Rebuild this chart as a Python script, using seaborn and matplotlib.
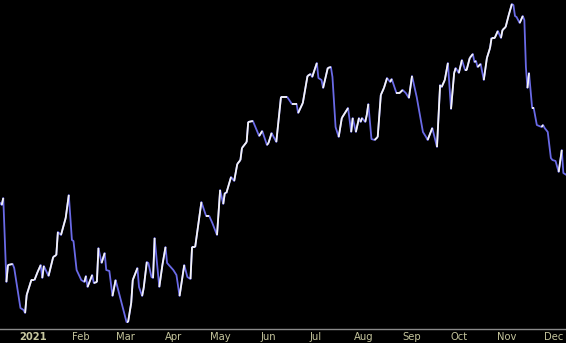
import numpy as np
import pandas as pd
import matplotlib
matplotlib.use("Agg")
import matplotlib.pyplot as plt
import matplotlib.dates as mdates
from matplotlib.collections import LineCollection
import seaborn as sns

# Days relative to 2021-01-01 and series values
day = [-21, -20, -19, -17, -16, -13, -12, -8, -6, -5, -4, -1, 1, 3, 5, 6, 7, 10, 13, 15,
       16, 18, 21, 23, 25, 26, 28, 31, 33, 34, 35, 38, 39, 41, 42, 44, 46, 47, 49, 51,
       53, 58, 60, 61, 63, 64, 67, 68, 70, 71, 73, 74, 76, 77, 78, 81, 83, 85, 86, 90,
       92, 94, 97, 99, 101, 102, 104, 108, 111, 113, 115, 118, 120, 122, 123, 124, 127, 129, 131, 133,
       134, 137, 138, 141, 145, 147, 150, 151, 153, 156, 159, 163, 166, 169, 170, 173, 176, 178, 179, 182,
       183, 185, 186, 189, 191, 192, 194, 196, 198, 202, 204, 205, 207, 209, 210, 211, 213, 214, 215, 217,
       219, 221, 223, 225, 227, 229, 230, 233, 235, 237, 239, 241, 243, 246, 250, 252, 253, 256, 259, 261,
       262, 264, 266, 268, 270, 271, 273, 275, 277, 278, 280, 282, 283, 284, 285, 287, 289, 291, 293, 294,
       296, 298, 300, 301, 303, 305, 307, 308, 309, 310, 312, 314, 315, 316, 317, 318, 320, 321, 323, 326,
       327, 328, 330, 332, 333, 335, 337, 339, 340, 342]
value = [127, 125, 132, 48, 65, 66, 62, 22, 20, 17, 35, 50, 50, 58, 65, 52, 64, 54, 73, 75,
         98, 95, 112, 135, 90, 89, 60, 50, 48, 54, 43, 55, 47, 48, 82, 67, 77, 60, 59, 34,
         50, 20, 8, 8, 27, 50, 62, 43, 34, 42, 68, 67, 53, 52, 92, 43, 65, 83, 67, 60,
         55, 34, 65, 53, 51, 83, 83, 128, 114, 114, 107, 95, 140, 126, 137, 137, 153, 149, 166, 170,
         182, 188, 208, 209, 194, 199, 185, 187, 197, 188, 233, 233, 226, 226, 217, 227, 254, 256, 253, 267,
         252, 250, 242, 262, 263, 253, 203, 193, 212, 222, 198, 212, 198, 212, 208, 212, 208, 215, 226, 191,
         190, 193, 235, 242, 252, 248, 251, 237, 237, 240, 237, 232, 254, 233, 198, 193, 190, 202, 183, 245,
         243, 250, 267, 221, 257, 262, 257, 270, 260, 260, 272, 276, 268, 269, 263, 266, 250, 272, 282, 292,
         292, 299, 292, 300, 303, 315, 326, 325, 314, 313, 307, 314, 310, 263, 242, 257, 222, 222, 205, 203,
         205, 202, 198, 172, 170, 169, 158, 180, 157, 155]

tick_months = ["2021-01-01", "2021-02-01", "2021-03-01", "2021-04-01", "2021-05-01", "2021-06-01",
               "2021-07-01", "2021-08-01", "2021-09-01", "2021-10-01", "2021-11-01", "2021-12-01"]
tick_labels = ["2021", "Feb", "Mar", "Apr", "May", "Jun", "Jul", "Aug", "Sep", "Oct", "Nov", "Dec"]

base = pd.Timestamp("2021-01-01")
df = pd.DataFrame({"date": base + pd.to_timedelta(day, unit="D"), "value": value})

sns.set_style("dark")
fig = plt.figure(figsize=(5.66, 3.43), dpi=100, facecolor="black")
ax = fig.add_axes([0, 14 / 343, 1, 329 / 343])
ax.set_facecolor("black")

UP = "#f4f4f4"
DOWN = "#6a6ae6"

# whole series in the "falling" colour
sns.lineplot(data=df, x="date", y="value", ax=ax, color=DOWN, linewidth=1.3)

# overlay rising segments in white
xs = mdates.date2num(df["date"].to_numpy())
ys = np.asarray(value, dtype=float)
segs = []
for i in range(len(xs) - 1):
    if ys[i + 1] >= ys[i]:
        segs.append([(xs[i], ys[i]), (xs[i + 1], ys[i + 1])])
lc = LineCollection(segs, colors=UP, linewidths=1.3, capstyle="butt")
ax.add_collection(lc)

ax.set_xlim(base + pd.Timedelta(days=-21.1), base + pd.Timedelta(days=341.7))
ax.set_ylim(1, 330)

ax.set_xticks(pd.to_datetime(tick_months))
ax.set_xticklabels(tick_labels)
ax.set_yticks([])
ax.set_xlabel("")
ax.set_ylabel("")
ax.grid(False)

for s in ["top", "left", "right"]:
    ax.spines[s].set_visible(False)
ax.spines["bottom"].set_visible(True)
ax.spines["bottom"].set_color("#8a8a8a")
ax.spines["bottom"].set_linewidth(1.0)

ax.tick_params(axis="x", colors="#8a8a8a", length=2, width=0.8, direction="inout", pad=1,
               labelcolor="#c4c49c", labelsize=7.2)
for lbl in ax.get_xticklabels():
    lbl.set_family("DejaVu Sans")
    if lbl.get_text() == "2021":
        lbl.set_fontweight("bold")
        lbl.set_color("#c8c8a0")

fig.savefig("out.png", dpi=100, facecolor="black")
